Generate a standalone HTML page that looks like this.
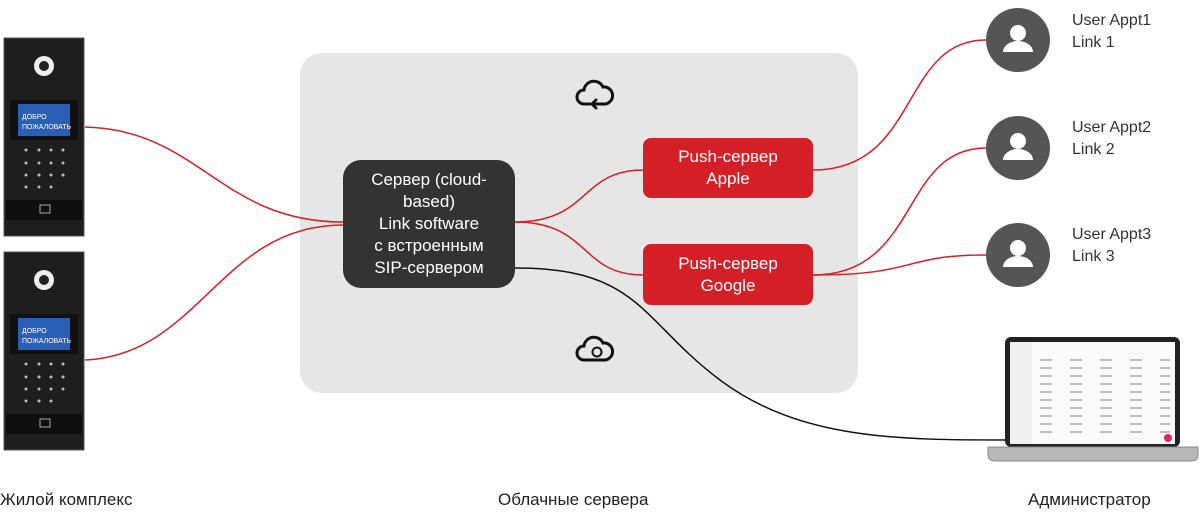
<!DOCTYPE html>
<html><head><meta charset="utf-8"><style>
body{margin:0;width:1200px;height:520px;background:#fff;position:relative;overflow:hidden;font-family:"Liberation Sans",sans-serif}
.a{position:absolute}
.lbl{position:absolute;font-size:17px;color:#222;top:490px}
.box{position:absolute;display:flex;align-items:center;justify-content:center;text-align:center;color:#fff;font-size:17px;line-height:22px}
.user{position:absolute;font-size:16px;color:#333;line-height:22px}
</style></head><body>
<div class="a" style="left:300px;top:53px;width:558px;height:340px;background:#e6e6e6;border-radius:22px"></div>
<svg class="a" style="left:0;top:0" width="1200" height="520">
<g fill="none" stroke="#d51f26" stroke-width="1.5">
<path d="M85,127 C200,130 220,222 343,222"/>
<path d="M85,360 C200,355 220,225 343,225"/>
<path d="M515,222 C590,222 580,170 643,170"/>
<path d="M515,222 C590,222 580,275 643,275"/>
<path d="M813,170 C920,170 900,40 986,40"/>
<path d="M813,275 C920,275 900,148 986,148"/>
<path d="M813,275 C920,275 900,255 986,255"/>
</g>
<path d="M515,268 C640,268 640,320 720,380 C800,440 900,440 1010,440" fill="none" stroke="#111" stroke-width="1.5"/>
<g fill="none" stroke="#111" stroke-width="3" stroke-linecap="round">
<path d="M590,104 h-6 a7,7 0 0 1 0,-14 a10,10 0 0 1 19,-3 a8,8 0 0 1 2,17 h-12 m3,-4 l-4,4 l4,4"/>
<path d="M590,360 h-6 a7,7 0 0 1 0,-14 a10,10 0 0 1 19,-3 a8,8 0 0 1 2,17 h-14"/>
<circle cx="597" cy="352" r="4.5" stroke-width="2"/>
</g>
<g fill="#555">
<circle cx="1018" cy="40" r="32"/><circle cx="1018" cy="148" r="32"/><circle cx="1018" cy="255" r="32"/>
</g>
<g fill="#fff">
<circle cx="1018" cy="33" r="8"/><path d="M1003,52 a15,11 0 0 1 30,0z"/>
<circle cx="1018" cy="141" r="8"/><path d="M1003,160 a15,11 0 0 1 30,0z"/>
<circle cx="1018" cy="248" r="8"/><path d="M1003,267 a15,11 0 0 1 30,0z"/>
</g>
<g id="ic">
<rect x="4" y="38" width="80" height="198" fill="#1e1e1e" stroke="#555"/>
<circle cx="44" cy="66" r="10" fill="#eee"/><circle cx="44" cy="66" r="5" fill="#222"/>
<rect x="10" y="100" width="68" height="40" fill="#111"/>
<rect x="18" y="104" width="52" height="32" fill="#2a5fb5"/>
<text x="22" y="119" font-size="7" fill="#fff" font-family="Liberation Sans">ДОБРО</text>
<text x="22" y="129" font-size="7" fill="#fff" font-family="Liberation Sans">ПОЖАЛОВАТЬ</text>
<g fill="#bbb"><circle cx="26" cy="150" r="1.5"/><circle cx="39" cy="150" r="1.5"/><circle cx="51" cy="150" r="1.5"/><circle cx="63" cy="150" r="1.5"/>
<circle cx="26" cy="163" r="1.5"/><circle cx="39" cy="163" r="1.5"/><circle cx="51" cy="163" r="1.5"/><circle cx="63" cy="163" r="1.5"/>
<circle cx="26" cy="175" r="1.5"/><circle cx="39" cy="175" r="1.5"/><circle cx="51" cy="175" r="1.5"/><circle cx="63" cy="175" r="1.5"/>
<circle cx="26" cy="187" r="1.5"/><circle cx="39" cy="187" r="1.5"/><circle cx="51" cy="187" r="1.5"/></g>
<rect x="6" y="200" width="76" height="20" fill="#0f0f0f"/>
<rect x="40" y="205" width="10" height="8" fill="none" stroke="#aaa"/>
</g>
<use href="#ic" y="214"/>
<rect x="1005" y="337" width="175" height="110" rx="6" fill="#222"/>
<rect x="1010" y="342" width="165" height="102" fill="#fafafa"/>
<rect x="1010" y="342" width="22" height="102" fill="#f0f0f0"/>
<g stroke="#aaa" stroke-width="1.5">
<path d="M1040,360h130M1040,368h130M1040,376h130M1040,384h130M1040,392h130M1040,400h130M1040,408h130M1040,416h130M1040,424h130M1040,432h130" stroke-dasharray="12 18"/>
</g>
<circle cx="1168" cy="438" r="4" fill="#e0245e"/>
<path d="M988,447 h210 v8 q0,6 -8,6 h-194 q-8,0 -8,-6z" fill="#b8b8b8" stroke="#888"/>
</svg>
<div class="box" style="left:343px;top:160px;width:172px;height:128px;background:#333;border-radius:18px">Сервер (cloud-<br>based)<br>Link software<br>с встроенным<br>SIP-сервером</div>
<div class="box" style="left:643px;top:138px;width:170px;height:60px;background:#d51f26;border-radius:8px">Push-сервер<br>Apple</div>
<div class="box" style="left:643px;top:244px;width:170px;height:61px;background:#d51f26;border-radius:8px">Push-сервер<br>Google</div>
<div class="user" style="left:1072px;top:10px">User Appt1<br>Link 1</div>
<div class="user" style="left:1072px;top:117px">User Appt2<br>Link 2</div>
<div class="user" style="left:1072px;top:224px">User Appt3<br>Link 3</div>
<div class="lbl" style="left:0">Жилой комплекс</div>
<div class="lbl" style="left:498px">Облачные сервера</div>
<div class="lbl" style="left:1028px">Администратор</div>
</body></html>
